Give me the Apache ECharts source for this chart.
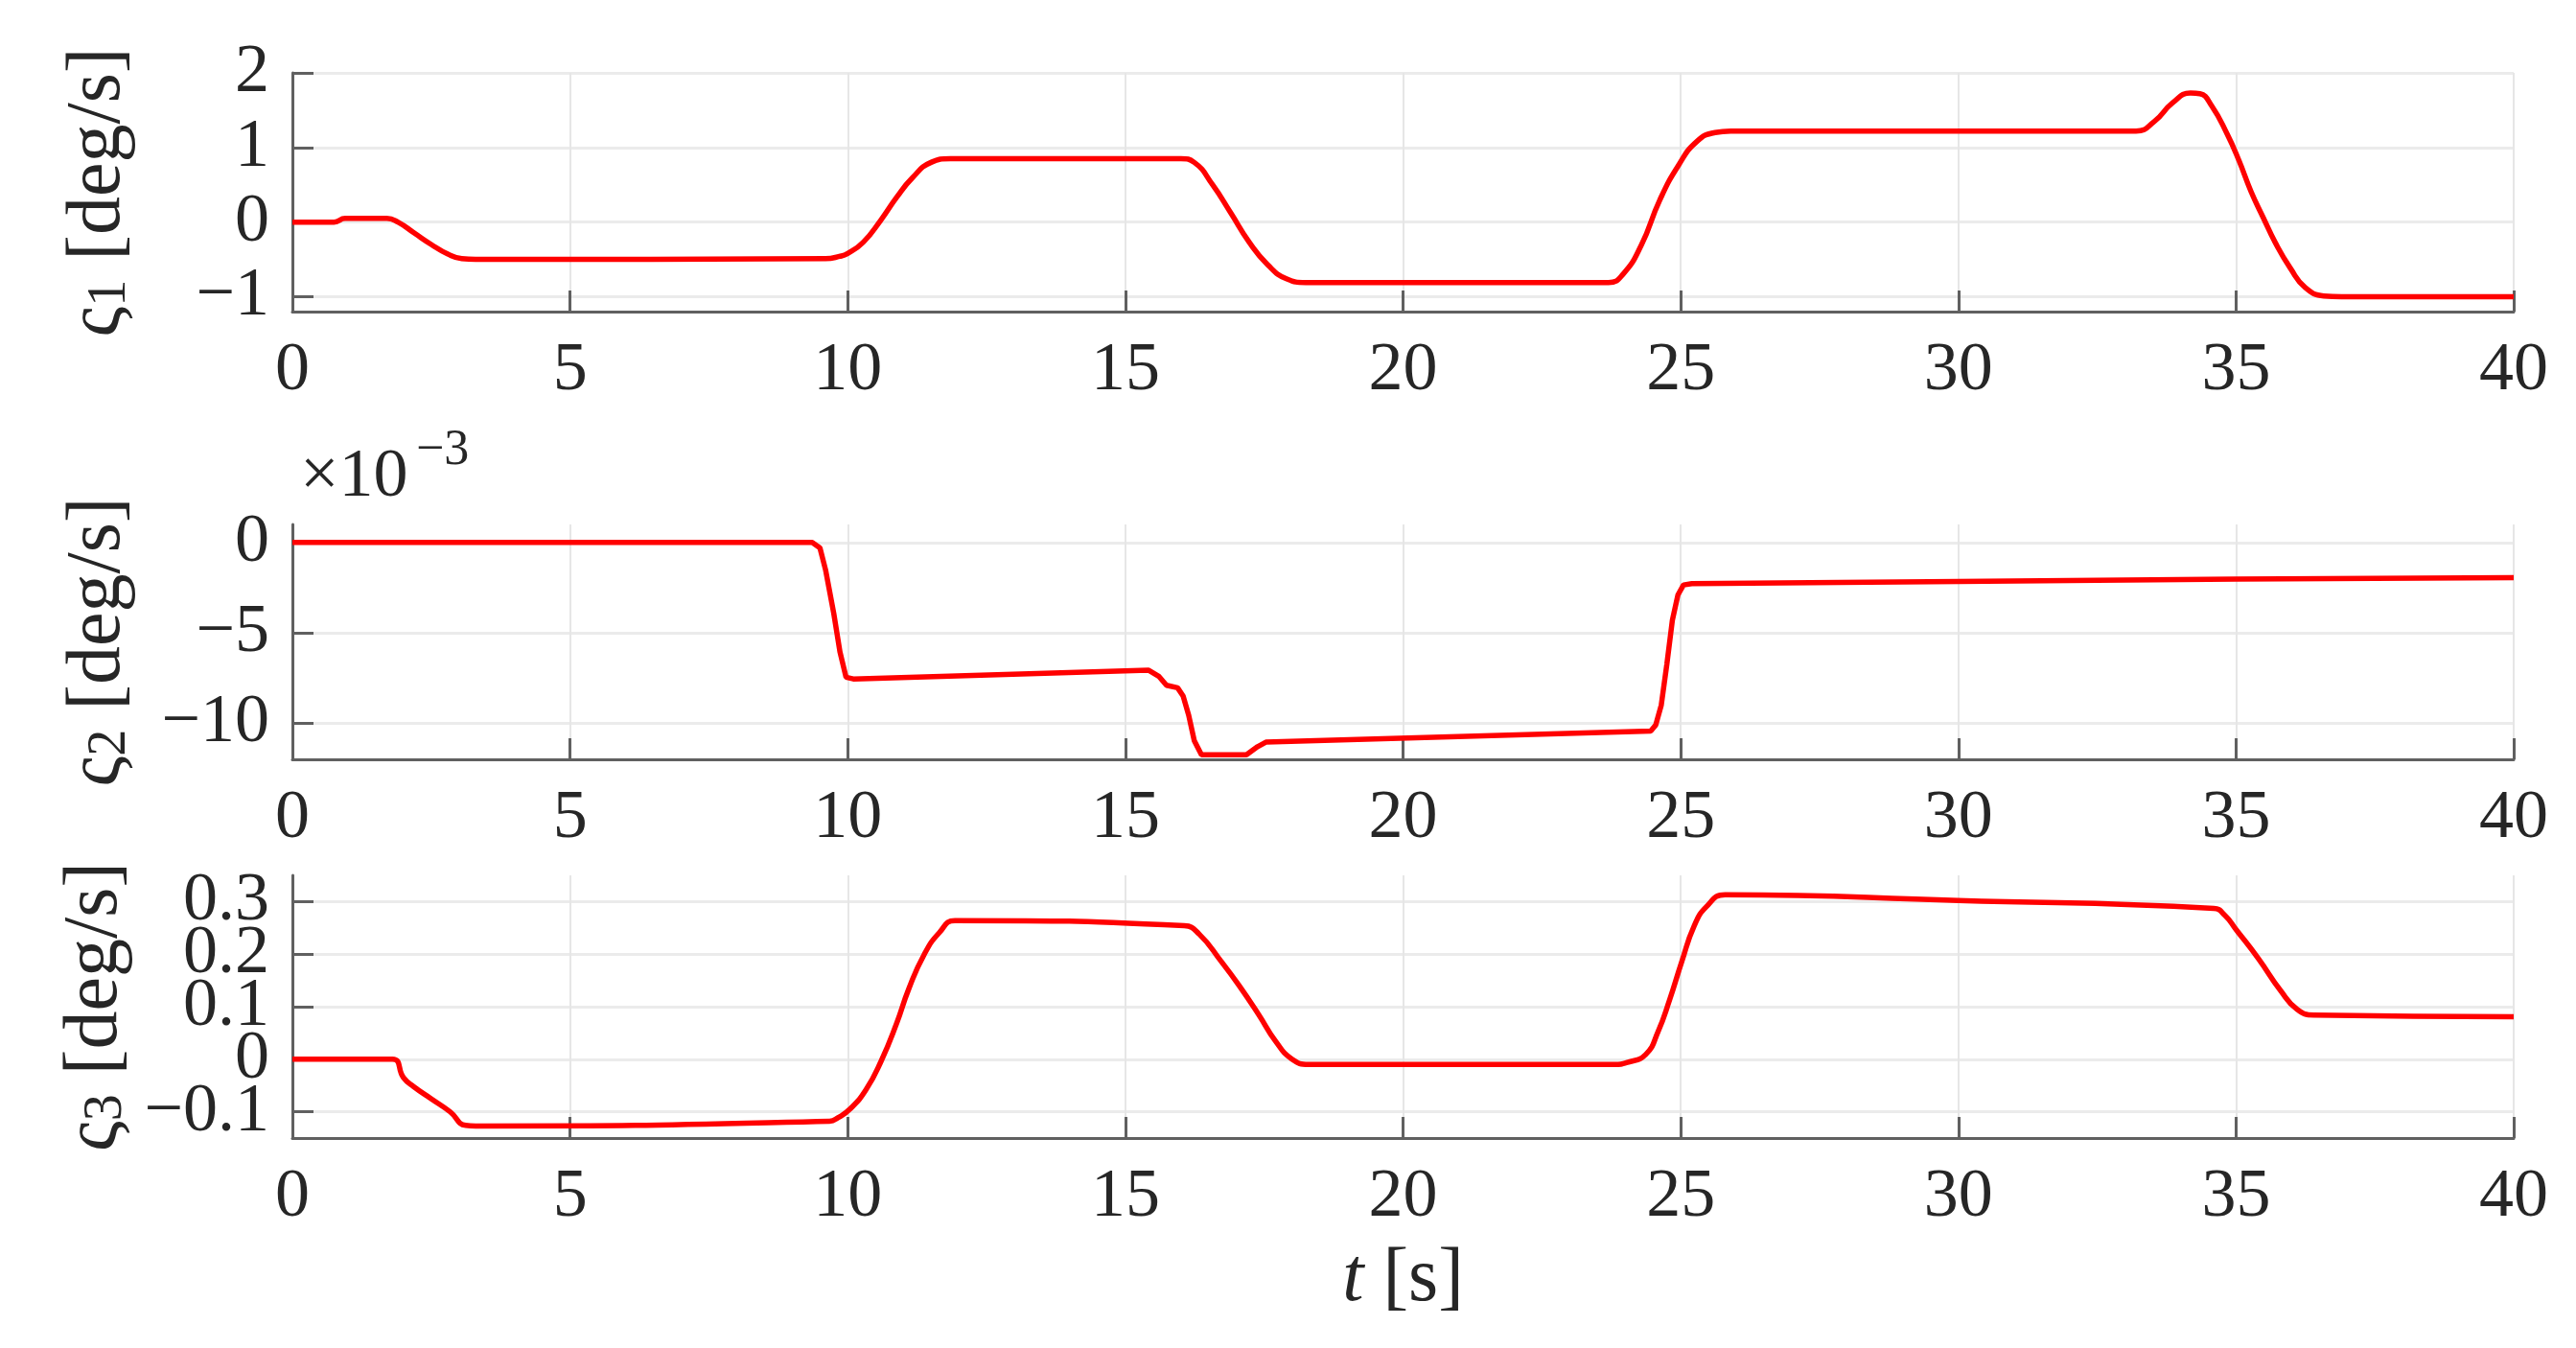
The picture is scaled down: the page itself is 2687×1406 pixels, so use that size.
<!DOCTYPE html>
<html><head><meta charset="utf-8">
<script src="https://cdn.jsdelivr.net/npm/echarts@6/dist/echarts.min.js"></script>
<style>html,body{margin:0;padding:0;background:#fff}#c{width:2687px;height:1406px}</style>
</head><body><div id="c"></div>
<script>
// time ticks
const xTicks = [0, 5, 10, 15, 20, 25, 30, 35, 40];

// panel 1: varsigma_1 [deg/s]
const t1 = [0, 0.75, 0.95, 1.7, 1.9, 2.2, 2.5, 2.8, 3.05, 3.3, 9.6, 9.85, 10.0, 10.28, 10.6, 10.88, 11.16, 11.5, 11.85, 16.0, 16.24, 16.57, 16.9, 17.23, 17.56, 17.9, 18.25, 23.7, 23.96, 24.29, 24.62, 24.96, 25.29, 25.62, 25.9, 33.2, 33.53, 33.86, 34.18, 34.35, 34.56, 34.84, 35.05, 35.27, 35.49, 35.71, 35.98, 36.25, 36.58, 36.9, 40];
const s1 = [0, 0, 0.05, 0.05, 0.0, -0.15, -0.3, -0.43, -0.49, -0.5, -0.49, -0.46, -0.42, -0.27, 0.03, 0.33, 0.59, 0.8, 0.85, 0.85, 0.8, 0.5, 0.12, -0.27, -0.57, -0.76, -0.81, -0.81, -0.7, -0.31, 0.29, 0.76, 1.08, 1.2, 1.22, 1.22, 1.35, 1.6, 1.73, 1.72, 1.56, 1.18, 0.83, 0.41, 0.06, -0.28, -0.62, -0.88, -0.99, -1.0, -1.0];

// panel 2: varsigma_2 [deg/s] (x 10^-3)
const t2 = [0, 9.36, 9.5, 9.6, 9.75, 9.86, 9.97, 10.1, 15.42, 15.6, 15.74, 15.94, 16.04, 16.14, 16.24, 16.37, 17.18, 17.38, 17.53, 24.46, 24.55, 24.65, 24.75, 24.85, 24.95, 25.05, 25.2, 30, 35, 40];
const s2 = [0, 0, -0.3, -1.5, -3.95, -6.05, -7.46, -7.55, -7.07, -7.4, -7.9, -8.04, -8.5, -9.56, -10.96, -11.75, -11.75, -11.3, -11.05, -10.44, -10.1, -9.0, -6.75, -4.3, -2.9, -2.35, -2.28, -2.16, -2.03, -1.95];

// panel 3: varsigma_3 [deg/s]
const t3 = [0, 1.8, 2.0, 2.18, 2.51, 2.84, 3.12, 3.3, 9.67, 9.83, 10.05, 10.33, 10.6, 10.88, 11.1, 11.38, 11.65, 11.93, 16.06, 16.33, 16.72, 17.05, 17.4, 17.7, 18.0, 18.3, 23.8, 24.04, 24.37, 24.59, 24.8, 25.02, 25.24, 25.46, 25.8, 30, 34.6, 34.8, 35.0, 35.4, 35.8, 36.1, 36.4, 40];
const s3 = [0, 0, -0.035, -0.052, -0.076, -0.1, -0.126, -0.127, -0.118, -0.111, -0.094, -0.058, -0.004, 0.068, 0.134, 0.2, 0.241, 0.264, 0.254, 0.238, 0.187, 0.14, 0.085, 0.035, 0.0, -0.01, -0.01, -0.006, 0.009, 0.052, 0.113, 0.186, 0.253, 0.29, 0.313, 0.302, 0.287, 0.274, 0.247, 0.192, 0.131, 0.095, 0.084, 0.081];

// y tick labels
const yTicks1 = [-1, 0, 1, 2];
const yTicks2 = [-10, -5, 0];
const yTicks3 = [-0.1, 0, 0.1, 0.2, 0.3];
// panel 3 labels are packed tightly; split over two label layers so none is dropped
const yTicks3a = yTicks3.filter((v, i) => i % 2 === 0);
const yTicks3b = yTicks3.filter((v, i) => i % 2 === 1);

const FONT = 'Liberation Serif';
const AX = '#606060';
const TXT = '#262626';
const pair = (t, s) => t.map((v, i) => [v, s[i]]);
const fmt = v => String(Math.round(v * 1000) / 1000).replace('-', '\u2212');

function xAxis(gi) {
  return {
    type: 'value', gridIndex: gi, min: 0, max: 40, interval: 5,
    axisLine: { show: true, onZero: false, lineStyle: { color: AX, width: 3 } },
    axisTick: { show: true, inside: true, length: 22, lineStyle: { color: AX, width: 3 } },
    axisLabel: { fontFamily: FONT, fontSize: 72, color: TXT, margin: 26, formatter: fmt, showMinLabel: true, showMaxLabel: true },
    splitLine: { show: true, lineStyle: { color: '#e6e6e6', width: 2 } }
  };
}
function yAxis(gi, min, max, ticks, labelTicks, sub) {
  return {
    type: 'value', gridIndex: gi, min: min, max: max,
    axisLine: { show: true, onZero: false, lineStyle: { color: AX, width: 3 } },
    axisTick: { show: true, inside: true, length: 22, customValues: ticks, lineStyle: { color: AX, width: 3 } },
    axisLabel: { fontFamily: FONT, fontSize: 72, color: TXT, margin: 24, customValues: labelTicks, formatter: fmt,
      showMinLabel: true, showMaxLabel: true },
    splitLine: { show: true, lineStyle: { color: '#ebebeb', width: 3 } },
    name: '\u03c2{s|' + sub + '} [deg/s]',
    nameLocation: 'middle', nameGap: 162, nameRotate: 90,
    nameTextStyle: {
      fontFamily: FONT, fontSize: 80, color: TXT,
      rich: { s: { fontFamily: FONT, fontSize: 56, color: TXT, verticalAlign: 'bottom' } }
    }
  };
}

const chart = echarts.init(document.getElementById('c'), null, { renderer: 'canvas' });
chart.setOption({
  animation: false,
  backgroundColor: '#ffffff',
  grid: [
    { left: 305, right: 65, top: 76, height: 249, outerBoundsMode: 'none' },
    { left: 305, right: 65, top: 547, height: 245, outerBoundsMode: 'none' },
    { left: 305, right: 65, top: 913, height: 274, outerBoundsMode: 'none' }
  ],
  xAxis: [
    xAxis(0), xAxis(1),
    Object.assign(xAxis(2), {
      name: '{i|t} [s]', nameLocation: 'middle', nameGap: 108,
      nameTextStyle: { fontFamily: FONT, fontSize: 80, color: TXT,
        rich: { i: { fontFamily: FONT, fontSize: 80, fontStyle: 'italic', color: TXT } } }
    })
  ],
  yAxis: [
    yAxis(0, -1.2, 2, yTicks1, yTicks1, '1'),
    yAxis(1, -12, 1, yTicks2, yTicks2, '2'),
    yAxis(2, -0.15, 0.35, yTicks3, yTicks3a, '3'),
    {
      type: 'value', gridIndex: 2, position: 'left', min: -0.15, max: 0.35,
      axisLine: { show: false }, axisTick: { show: false }, splitLine: { show: false },
      axisLabel: { fontFamily: FONT, fontSize: 72, color: TXT, margin: 24, customValues: yTicks3b, formatter: fmt,
        showMinLabel: true, showMaxLabel: true }
    }
  ],
  graphic: [
    { type: 'text', left: 313, top: 462, style: { text: '\u00d710', fontFamily: FONT, fontSize: 72, fill: TXT } },
    { type: 'text', left: 434, top: 444, style: { text: '\u22123', fontFamily: FONT, fontSize: 52, fill: TXT } }
  ],
  series: [
    { type: 'line', xAxisIndex: 0, yAxisIndex: 0, data: pair(t1, s1), showSymbol: false, smooth: 0.5, lineStyle: { color: '#ff0000', width: 5.5 }, itemStyle: { color: '#ff0000' } },
    { type: 'line', xAxisIndex: 1, yAxisIndex: 1, data: pair(t2, s2), showSymbol: false, smooth: false, lineStyle: { color: '#ff0000', width: 5.5 }, itemStyle: { color: '#ff0000' } },
    { type: 'line', xAxisIndex: 2, yAxisIndex: 2, data: pair(t3, s3), showSymbol: false, smooth: 0.5, lineStyle: { color: '#ff0000', width: 5.5 }, itemStyle: { color: '#ff0000' } }
  ]
});
</script></body></html>
